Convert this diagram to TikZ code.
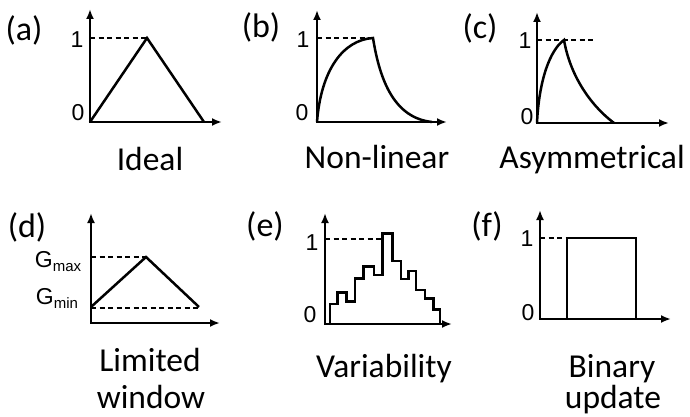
\documentclass[tikz,border=0pt]{standalone}
\usepackage{fontspec}
\setmainfont{Carlito}
\newfontfamily\tickfont{Liberation Sans}
\usetikzlibrary{arrows.meta}
\begin{document}
\begin{tikzpicture}[x=1pt,y=-1pt,
  axes/.style={line width=2.5pt,{Latex[length=10pt,width=8pt]}-{Latex[length=10pt,width=8pt]}},
  curve/.style={line width=2.5pt,line join=miter},
  guide/.style={line width=1.1pt,dash pattern=on 5pt off 3.5pt},
  ticklbl/.style={font=\tickfont\fontsize{23}{26}\selectfont,inner sep=0},
  panel/.style={font=\fontsize{34}{36}\selectfont,inner sep=0},
  title/.style={font=\fontsize{33.5}{36}\selectfont,inner sep=0,anchor=base},
]
\useasboundingbox (0,0) rectangle (690,417);
\newcommand{\subs}[1]{\raisebox{-4pt}{\fontsize{15}{17}\selectfont #1}}

% (a) Ideal
\node[panel] (pa) at (24,30) {(a)};
\draw[axes] (90,9) -- (90,122) -- (222,122);
\draw[guide] (90,38) -- (147,38);
\draw[curve] (90,122) -- (147,38) -- (204,122);
\node[ticklbl] (a1) at (77,40) {1};
\node[ticklbl] (a0) at (78,113) {0};
\node[title] (ta) at (150,170) {Ideal};

% (b) Non-linear
\node[panel] (pb) at (261,27) {(b)};
\draw[axes] (317,10) -- (317,122) -- (447,122);
\draw[guide] (317,38) -- (373,38);
\draw[curve] (317,122) .. controls (321,70) and (343,40) .. (373,38)
  .. controls (380,82) and (395,118) .. (432,122);
\node[ticklbl] (b1) at (303,40) {1};
\node[ticklbl] (b0) at (302,113) {0};
\node[title] (tb) at (377,168) {Non-linear};

% (c) Asymmetrical
\node[panel] (pc) at (480,28) {(c)};
\draw[axes] (537,12) -- (537,123) -- (669,123);
\draw[guide] (537,40) -- (593,40);
\draw[curve] (537,123) .. controls (539,80) and (550,50) .. (564,40)
  .. controls (570,75) and (590,105) .. (614,123);
\node[ticklbl] (c1) at (525,41) {1};
\node[ticklbl] (c0) at (527,117) {0};
\node[title] (tc) at (592,168) {Asymmetrical};

% (d) Limited window
\node[panel] (pd) at (27,227) {(d)};
\draw[axes] (91,213) -- (91,323) -- (220,323);
\draw[guide] (91,257) -- (146,257);
\draw[guide] (91,308) -- (199,308);
\draw[curve] (91,307) -- (146,257) -- (199,307);
\node[ticklbl] (gmax) at (58,262) {G\subs{max}};
\node[ticklbl] (gmin) at (57,298) {G\subs{min}};
\node[title] (td1) at (150,371) {Limited};
\node[title] (td2) at (151,408) {window};

% (e) Variability
\node[panel] (pe) at (265,226) {(e)};
\draw[axes] (325,213) -- (325,324) -- (452,324);
\draw[guide] (325,239) -- (382.3,239);
\draw[curve] (330,324) -- (330,304) -- (337.7,304) -- (337.7,292.7) -- (346.7,292.7)
  -- (346.7,301.7) -- (355,301.7) -- (355,278.3) -- (363.3,278.3) -- (363.3,266.7)
  -- (374,266.7) -- (374,275) -- (382.3,275) -- (382.3,233.3) -- (392.7,233.3)
  -- (392.7,261) -- (401,261) -- (401,279) -- (408.3,279) -- (408.3,271)
  -- (416,271) -- (416,290) -- (425,290) -- (425,298.3) -- (433.3,298.3)
  -- (433.3,309.3) -- (440,309.3) -- (440,324);
\node[ticklbl] (e1) at (312,243) {1};
\node[ticklbl] (e0) at (310,315) {0};
\node[title] (te) at (384,377) {Variability};

% (f) Binary update
\node[panel] (pf) at (487,226) {(f)};
\draw[axes] (540,210) -- (540,319) -- (671,319);
\draw[guide] (540,238) -- (567,238);
\draw[curve] (567,319) -- (567,238) -- (636,238) -- (636,319);
\node[ticklbl] (f1) at (527,239) {1};
\node[ticklbl] (f0) at (528,313) {0};
\node[title] (tf1) at (612,377) {Binary};
\node[title] (tf2) at (613,408) {update};
\end{tikzpicture}
\end{document}
